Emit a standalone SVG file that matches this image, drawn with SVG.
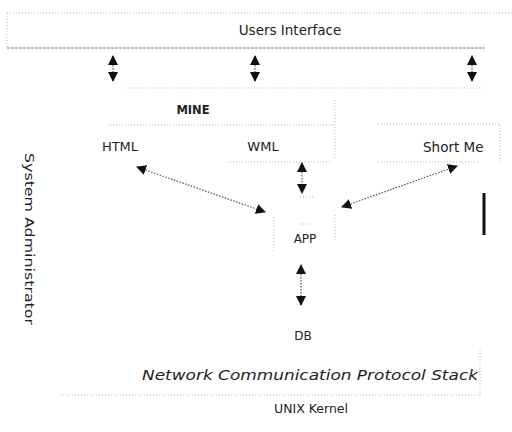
<svg xmlns="http://www.w3.org/2000/svg" width="512" height="432" viewBox="0 0 512 432">
<style>
.t{font-family:"DejaVu Sans","Open Sans",sans-serif;fill:#222;}
.f{fill:none;stroke:#b4b4b4;stroke-width:1;stroke-dasharray:1 2;}
.c{fill:none;stroke:#555;stroke-width:1.2;stroke-dasharray:1.5 1.5;marker-start:url(#ah);marker-end:url(#ah);}
</style>
<defs>
<marker id="ah" viewBox="0 0 10 10" refX="9" refY="5" markerWidth="10" markerHeight="10" markerUnits="userSpaceOnUse" orient="auto-start-reverse">
<path d="M0,0 L10,5 L0,10 z" fill="#111"/>
</marker>
</defs>
<rect width="512" height="432" fill="#fff"/>
<g id="users-interface">
<path class="f" d="M7,13 H512 M7,13 V48"/>
<path d="M7,48 H485" fill="none" stroke="#777" stroke-width="1" stroke-dasharray="3 1"/>
<text class="t" x="290" y="35" font-size="13.5" text-anchor="middle">Users Interface</text>
</g>
<g id="mine">
<path class="f" d="M125,88 H485 M110,125 H335 M335,100 V160"/>
<text class="t" x="193" y="114" font-size="11.5" font-weight="bold" text-anchor="middle">MINE</text>
</g>
<g id="html"><text class="t" x="120" y="151" font-size="13" text-anchor="middle">HTML</text></g>
<g id="wml">
<path class="f" d="M227,162 H330"/>
<text class="t" x="263" y="151" font-size="13" text-anchor="middle">WML</text>
</g>
<g id="short-message">
<path class="f" d="M378,124 H500 V162 M378,162 H480"/>
<text class="t" x="423" y="152" font-size="13.5">Short Me</text>
<rect x="482.5" y="193" width="3" height="42" fill="#111"/>
</g>
<g id="app">
<path class="f" d="M274,217 V253 M335,215 V242 M300,224 H312 M300,197 H314"/>
<text class="t" x="305" y="243" font-size="12" text-anchor="middle">APP</text>
</g>
<g id="db"><text class="t" x="303" y="340" font-size="12" text-anchor="middle">DB</text></g>
<g id="network-stack">
<path class="f" d="M480,350 V398 M60,395 H480"/>
<text class="t" x="142" y="380" font-size="14.5" font-style="italic" textLength="336" lengthAdjust="spacingAndGlyphs">Network Communication Protocol Stack</text>
</g>
<g id="unix-kernel"><text class="t" x="311" y="413" font-size="12.5" text-anchor="middle">UNIX Kernel</text></g>
<g id="system-admin">
<text class="t" transform="translate(25,153) rotate(90)" font-size="13" textLength="172" lengthAdjust="spacingAndGlyphs">System Administrator</text>
</g>
<g id="connectors">
<path class="c" d="M113,56 V81"/>
<path class="c" d="M255,56 V81"/>
<path class="c" d="M472,56 V81"/>
<path class="c" d="M137,167 L265,212"/>
<path class="c" d="M302,163 V193"/>
<path class="c" d="M342,207 L457,166"/>
<path class="c" d="M301,265 V305"/>
</g>
</svg>
